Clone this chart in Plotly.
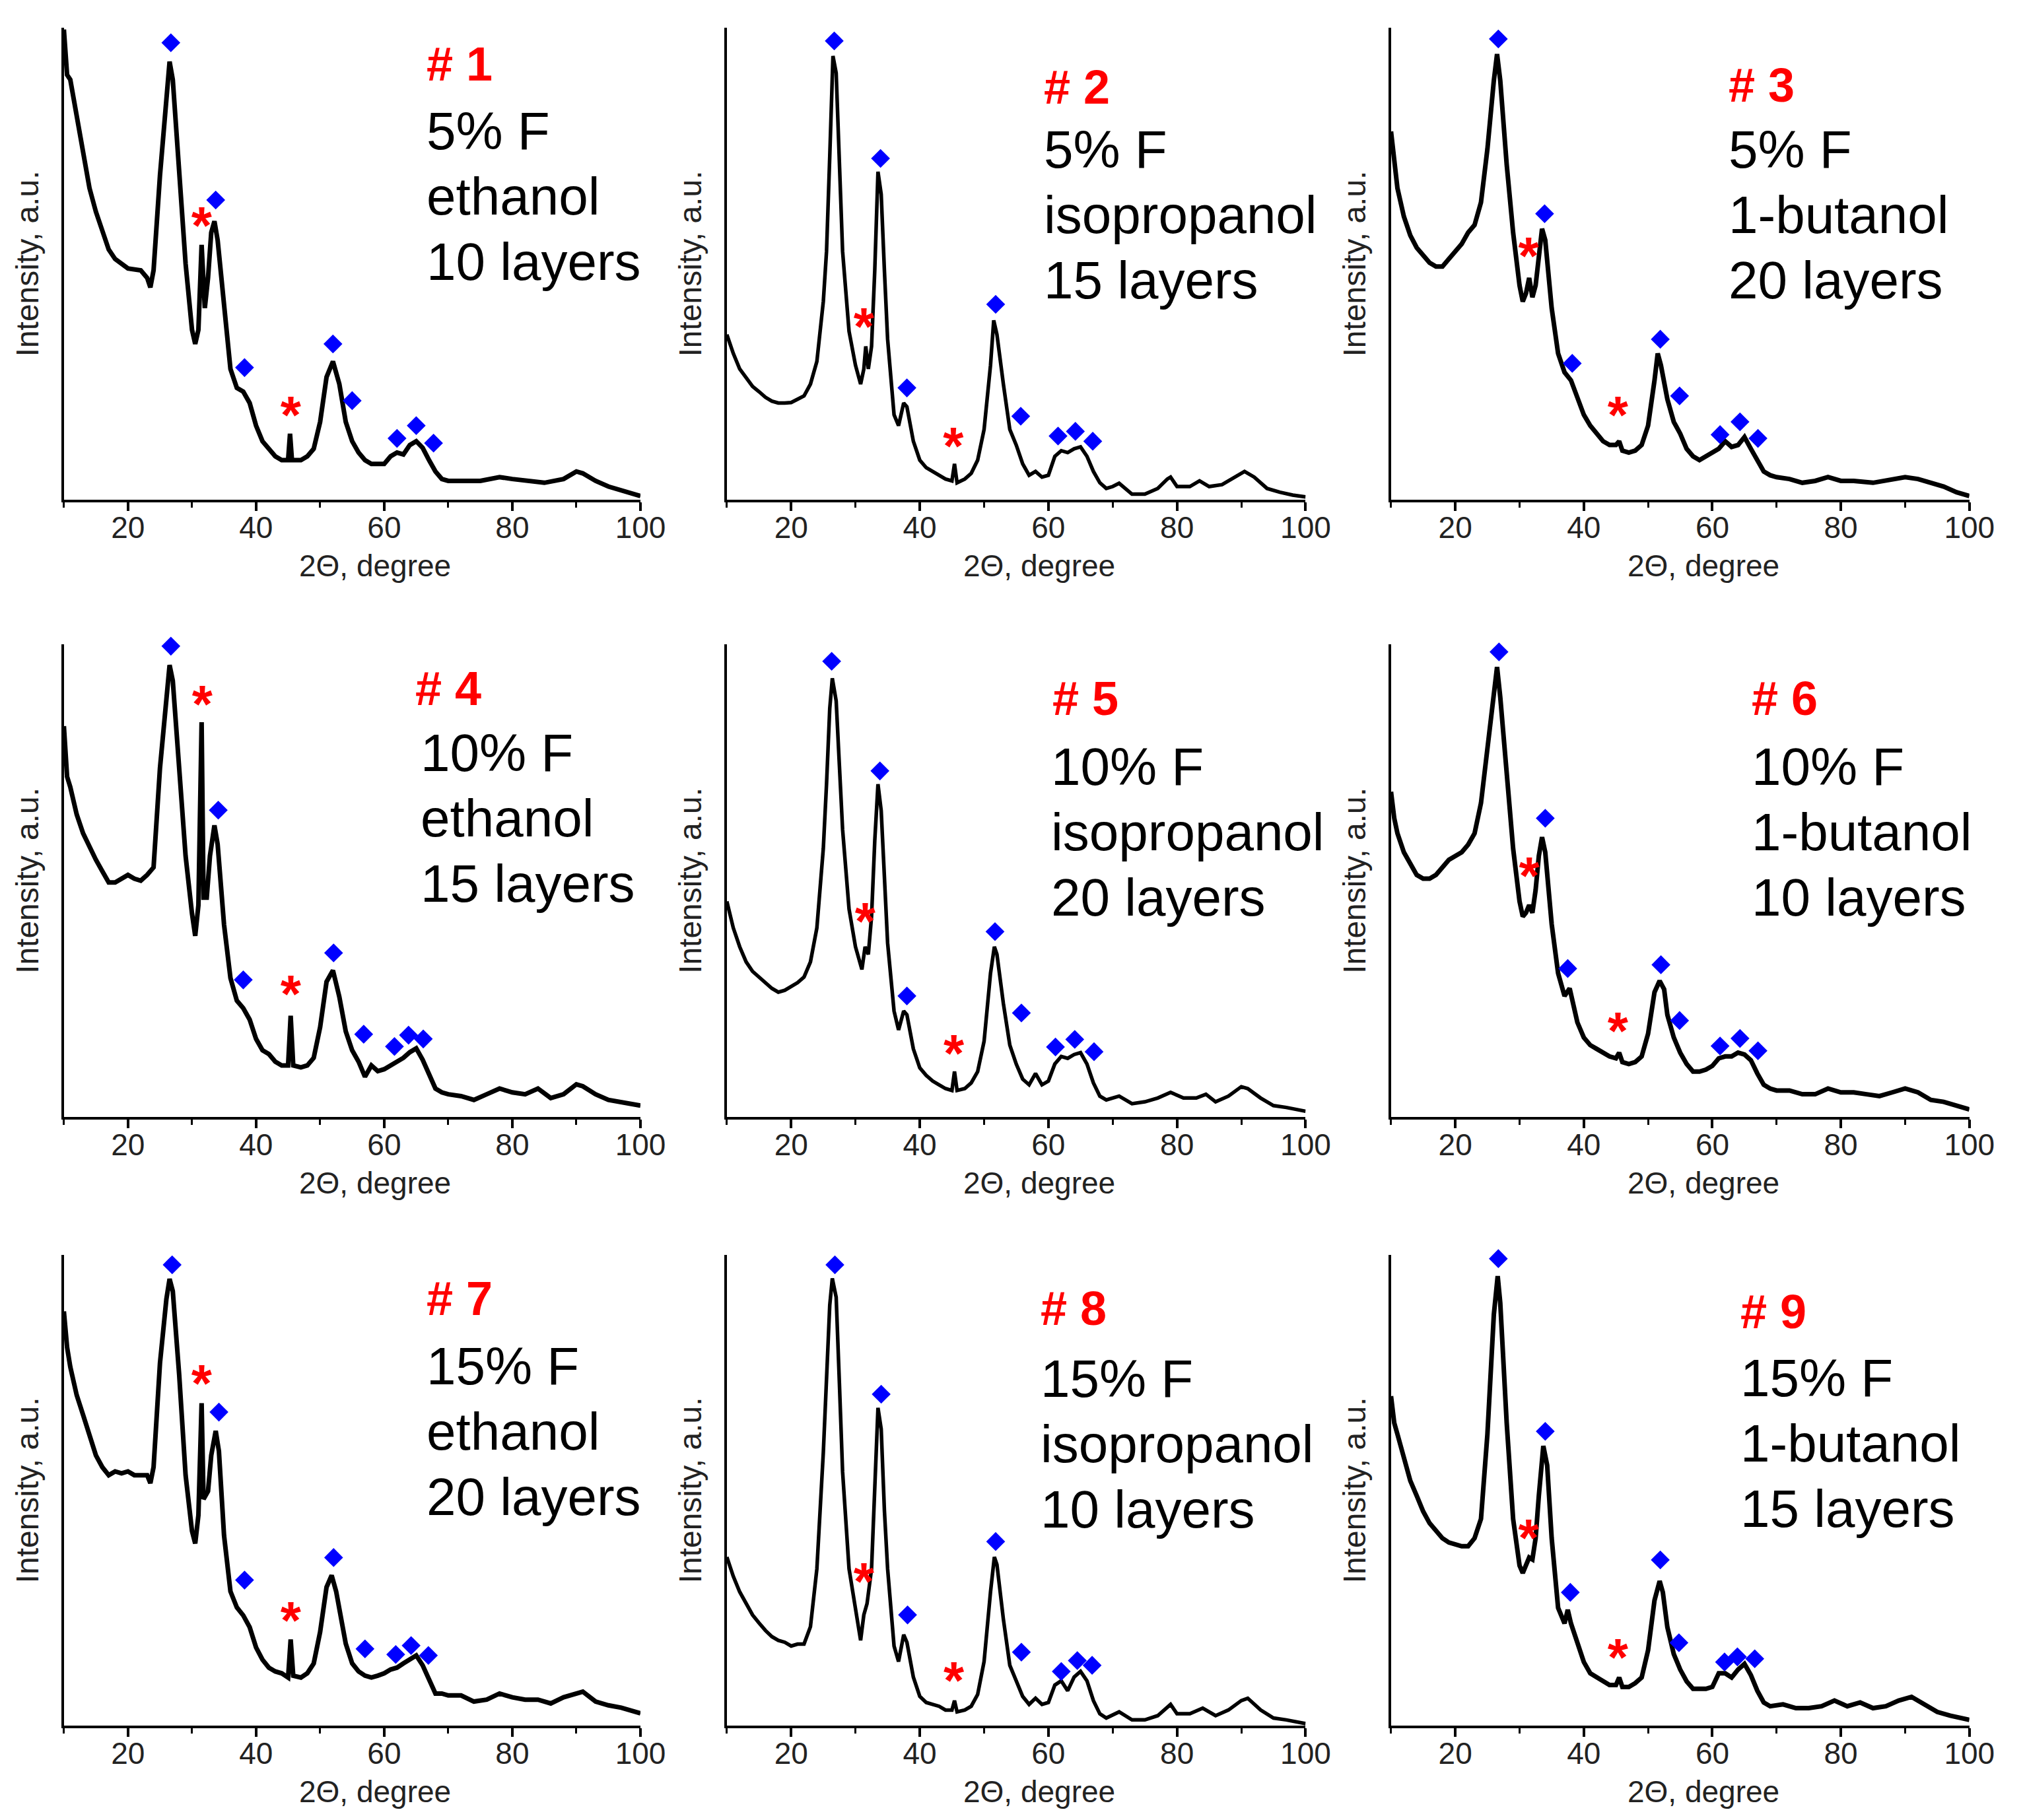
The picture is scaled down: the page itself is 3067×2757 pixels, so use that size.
import plotly.graph_objects as go
from plotly.subplots import make_subplots

# { spectra, intensity normalised to the height of each y axis (0..100)
x1 = [10, 10.5, 11, 12, 13, 14, 15, 16, 17, 18, 19, 20, 22, 23, 23.5, 24, 25, 26, 26.5, 27, 28, 29, 30, 30.5, 31, 31.5, 32, 32.5, 33, 33.5,
      34, 35, 36, 37, 38, 39, 40, 41, 42, 43, 44, 45, 45.3, 45.6, 47, 48, 49, 50, 51, 52, 53, 54, 55, 56, 57, 58, 59, 60, 61, 62,
      63, 64, 65, 66, 67, 68, 69, 70, 75, 78, 80, 85, 88, 90, 91, 93, 95, 97, 100]
y1 = [99.6, 90, 89, 81, 73, 66, 61, 57, 53, 51, 50, 49, 48.6, 47, 45, 48.6, 68.7, 85, 92.8, 89, 71, 50, 36, 33, 36, 54, 40.6, 47, 56.6, 59,
      55, 40.6, 27.7, 23.7, 22.9, 20.5, 15.7, 12.4, 10.8, 9.2, 8.4, 8.4, 14, 8.4, 8.4, 9.2, 10.8, 16.5, 26, 29.3, 24.5, 16.5, 12.4, 10, 8.4, 7.6, 7.6, 7.6, 9.2, 10,
      9.6, 11.6, 12.4, 11, 8.4, 6, 4.4, 4, 4, 4.8, 4.4, 3.6, 4.4, 6, 5.6, 4, 2.8, 2, 0.8]

x2 = [10, 11, 12, 13, 14, 15, 16, 17, 18, 19, 20, 21, 22, 23, 24, 25, 25.5, 26, 26.5, 27, 27.5, 28, 29, 30, 30.8,
      31.3, 31.6, 32, 32.5, 33, 33.5, 34, 34.5, 35, 36, 36.7, 37.5, 38, 39, 40, 41, 42, 43, 44, 45,
      45.4, 45.8, 47, 48, 49, 50, 51, 51.5, 52, 53, 54, 55, 56, 57, 58, 59, 60, 61, 62, 63,
      64, 65, 66, 67, 68, 69, 70, 71, 72, 73, 75, 77, 78.5, 79, 80, 82, 83.5, 85, 87, 89, 90.5, 92, 94, 96, 98, 100]
y2 = [35, 31, 27.7, 25.7, 24, 22.9, 21.7, 20.9, 20.5, 20.5, 20.6, 21.3, 22, 24.5, 29.3, 42, 52.6, 72.7, 94, 90.4, 71, 52.6, 35.7, 28.5, 24.5,
      27.7, 32.5, 27.7, 32.5, 48.6, 69.5, 64.7, 48.6, 34, 18, 15.7, 20.5, 19.7, 12.4, 8.4, 6.8, 6, 5.2, 4.4, 4,
      7.6, 3.6, 4.4, 5.6, 8.4, 14.9, 28.5, 38, 35, 24.5, 14.9, 11.6, 7.6, 5.2, 6, 4.8, 5.2, 9.2, 10.4, 10,
      10.8, 11.2, 9.2, 6, 3.6, 2.4, 2.8, 3.5, 2.4, 1.2, 1.2, 2.4, 4.4, 4.8, 2.8, 2.8, 4, 2.8, 3.2, 4.8, 6, 4.8, 2.4, 1.6, 1, 0.6]

x3 = [10, 10.5, 11, 12, 13, 14, 15, 16, 17, 18, 19, 20, 21, 22, 23, 24, 25, 26, 26.5, 27, 28, 29, 30, 30.5, 31, 31.5, 32, 32.5, 33, 33.5,
      34, 35, 36, 37, 38, 39, 40, 41, 42, 43, 44, 45, 45.5, 46, 47, 48, 49, 50, 51, 51.5, 52, 53, 54, 55, 56, 57, 58, 59, 60, 61,
      62, 63, 64, 65, 66, 67, 68, 69, 70, 72, 74, 76, 78, 80, 82, 85, 88, 90, 92, 94, 96, 98, 100]
y3 = [78, 72.7, 66, 60, 56, 53.4, 51.8, 50.2, 49.4, 49.4, 51, 52.6, 54.2, 56.6, 58.2, 63, 74.3, 88.8, 94.4, 88.8, 71, 56.6, 45.4, 42, 43.7, 47, 42.9, 45.4, 52.6, 57.4,
      55, 40.6, 31, 27, 25.3, 21.3, 18, 15.7, 14, 12.4, 11.6, 11.6, 12.4, 10.4, 10, 10.4, 11.6, 15.7, 25.3, 31, 28.5, 21.3, 16.5, 14, 10.8, 9.2, 8.4, 9.2, 10, 10.8,
      12.4, 11.2, 11.6, 13.3, 10.8, 8.4, 6, 5.2, 4.8, 4.4, 3.6, 4, 4.8, 4, 4, 3.6, 4.4, 4.8, 4.4, 3.6, 2.8, 1.6, 0.8]

x4 = [10, 10.5, 11, 12, 13, 14, 15, 16, 17, 18, 19, 20, 21, 22, 23, 24, 25, 26, 26.5, 27, 28, 29, 30, 30.5, 31, 31.5, 31.8, 32.3, 32.8, 33.5,
      34, 35, 36, 37, 38, 39, 40, 41, 42, 43, 44, 45, 45.4, 45.8, 47, 48, 49, 50, 51, 52, 53, 54, 55, 56, 57, 58, 59, 60, 61, 62,
      63, 64, 65, 66, 67, 68, 69, 70, 72, 74, 76, 78, 80, 82, 84, 86, 88, 90, 91, 93, 95, 97, 100]
y4 = [82.7, 72, 69.8, 64, 60, 56.9, 54.4, 52, 49.6, 49.6, 50.4, 51.2, 50.4, 50, 51.2, 52.8, 73.8, 89, 95.6, 92.3, 73.8, 55.2, 43, 38.3, 44.8, 83.5, 46.4, 46.4, 55.2, 61.7,
      57.7, 40.7, 29.4, 24.6, 23, 20.6, 16.5, 14.1, 13.3, 11.7, 10.9, 10.9, 21.4, 10.9, 10.5, 10.9, 12.5, 19, 28.6, 31, 25.4, 18.1, 14.1, 11.7, 8.5, 10.9, 9.7, 10.1, 10.9, 11.7,
      12.5, 13.7, 14.5, 12.1, 9.3, 6, 5.2, 4.8, 4.4, 3.6, 4.8, 6, 5.2, 4.8, 6, 4, 4.8, 6.9, 6.5, 4.8, 3.6, 3.2, 2.4]

x5 = [10, 10.5, 11, 12, 13, 14, 15, 16, 17, 18, 19, 20, 21, 22, 23, 24, 25, 25.5, 26, 26.4, 27, 27.5, 28, 29, 30, 31, 31.5, 32, 32.5, 33,
      33.5, 34, 34.5, 35, 36, 36.7, 37.5, 38, 39, 40, 41, 42, 43, 44, 45, 45.4, 45.8, 47, 48, 49, 50, 51, 51.6, 52, 53, 54, 55, 56, 57, 58,
      59, 60, 61, 62, 63, 64, 65, 66, 67, 68, 69, 71, 73, 75, 77, 79, 81, 83, 84.5, 86, 88, 90, 91, 93, 95, 97, 100]
y5 = [45.6, 42.4, 40, 36, 32.8, 30.8, 29.6, 28.4, 27.2, 26.4, 26.8, 27.6, 28.4, 29.6, 32.8, 40, 56.8, 70.4, 86.4, 92.8, 88, 74.4, 60.8, 44, 36, 31.2, 36, 34.4, 42.4, 58.4,
      70.4, 64.8, 50.4, 36.8, 22.4, 18.4, 22.4, 21.6, 14.4, 10.4, 8.8, 7.6, 6.8, 6, 5.6, 9.6, 5.6, 6, 7.2, 9.6, 16, 30.4, 36, 34.4, 24, 15.2, 11.2, 8, 6.8, 9.2,
      6.8, 7.6, 11.2, 12.8, 12.4, 13.2, 13.6, 11.2, 7.2, 4.4, 3.6, 4.4, 2.8, 3.2, 4, 5.2, 4, 4, 4.8, 3.2, 4.4, 6.4, 6, 4, 2.4, 2, 1.2]

x6 = [10, 10.5, 11, 12, 13, 14, 15, 16, 17, 18, 19, 20, 21, 22, 23, 24, 25, 26, 26.5, 27, 28, 29, 30, 30.5, 31, 31.5,
      32, 32.5, 33, 33.5, 34, 35, 36, 37, 37.8, 38.5, 39, 40, 41, 42, 43, 44, 45, 45.5, 46, 47,
      48, 49, 50, 51, 51.8, 52.5, 53, 54, 55, 56, 57, 58, 59, 60, 61, 62, 63, 64, 65, 66,
      67, 68, 69, 70, 72, 74, 76, 78, 80, 82, 84, 86, 88, 90, 92, 94, 96, 98, 100]
y6 = [68.8, 63.2, 60, 56, 53.6, 51.2, 50.4, 50.4, 51.2, 52.8, 54.4, 55.2, 56, 57.6, 60, 66.4, 78.4, 90.4, 95.2, 88.8, 72, 56.8, 45.6, 42.4, 43.2, 44.8,
      43.2, 48, 55.2, 59.2, 56, 40.8, 30.4, 25.6, 27.2, 23.2, 20, 16.8, 15.2, 14.4, 13.6, 12.8, 12.4, 13.6, 11.6, 11.2,
      11.6, 12.8, 17.6, 26.4, 28.8, 27, 21.6, 16.8, 13.6, 11.2, 9.6, 9.6, 10, 10.8, 12.4, 12.8, 12.8, 13.6, 13.2, 12,
      9.2, 6.8, 6, 5.6, 5.6, 4.8, 4.8, 6, 5.2, 5.2, 4.8, 4.4, 5.2, 6, 5.2, 3.6, 3.2, 2.4, 1.6]

x7 = [10, 10.5, 11, 12, 13, 14, 15, 16, 17, 18, 19, 20, 21, 22, 23, 23.5, 24, 25, 26, 26.5, 27, 28, 29, 30, 30.5, 31, 31.5, 31.8, 32.5, 33,
      33.7, 34.2, 35, 36, 37, 38, 39, 40, 41, 42, 43, 44, 45, 45.4, 45.8, 47, 48, 49, 50, 51, 51.8, 52.5, 53, 54, 55, 56, 57, 58, 59, 60,
      61, 62, 63, 64, 65, 66, 67, 68, 69, 70, 72, 74, 76, 78, 80, 82, 84, 86, 88, 90, 91, 93, 95, 97, 100]
y7 = [88, 80.4, 76.2, 70.2, 66, 61.7, 57.4, 54.9, 53.2, 54, 53.6, 54, 53.2, 53.2, 53.2, 51.5, 54.9, 77, 90.6, 94.9, 92.3, 74.5, 53.2, 41.3, 38.7, 44.7, 68.5, 48.1, 49.8, 57.4,
      62.6, 58.3, 40.4, 28.5, 25.1, 23.4, 20.9, 16.6, 14, 12.3, 11.5, 11.1, 10.2, 18.3, 10.6, 10.2, 11.1, 13.2, 19.9, 29.4, 31.9, 28.5, 24.3, 17.4, 13.2, 11.5, 10.6, 10.2, 10.6, 11.1,
      11.9, 12.3, 13.2, 14, 14.9, 12.8, 9.8, 6.8, 6.8, 6.4, 6.4, 5.1, 5.5, 6.8, 6, 5.5, 5.5, 4.7, 6, 6.8, 7.2, 5.1, 4.3, 3.8, 2.6]

x8 = [10, 11, 12, 13, 14, 15, 16, 17, 18, 19, 20, 21, 22, 23, 24, 25, 25.5, 26, 26.4, 27, 27.5, 28, 29, 30, 30.8,
      31.3, 31.8, 32.5, 33, 33.5, 34, 34.5, 35, 36, 36.7, 37.5, 38, 39, 40, 41, 42, 43, 44, 45, 45.4,
      45.8, 47, 48, 49, 50, 51, 51.6, 52, 53, 54, 55, 56, 57, 58, 59, 60, 61, 62, 63, 64,
      65, 66, 67, 68, 69, 71, 73, 75, 77, 79, 80, 82, 84, 86, 88, 90, 91, 93, 95, 97, 100]
y8 = [35.8, 31.7, 28.4, 25.9, 23.5, 21.8, 20.2, 18.9, 18.1, 17.7, 16.9, 17.3, 17.3, 21, 33.3, 58, 74.5, 89.3, 95, 91, 72.8, 53.9, 33.3, 24.3, 18.1,
      23.5, 25.9, 33.3, 49.8, 67.5, 63, 45.7, 33.3, 16.9, 13.6, 19.3, 17.7, 10.3, 6.2, 4.9, 4.5, 4.1, 3.3, 3.3, 5.3,
      2.9, 3.3, 4.1, 6.6, 13.6, 28.4, 35.8, 34.2, 22.6, 12.8, 9.5, 6.2, 4.5, 5.8, 4.5, 4.9, 8.6, 9.5, 7.4, 10.3,
      11.5, 9.5, 5.3, 2.5, 1.6, 2.9, 1.2, 1.2, 2.1, 4.5, 2.5, 2.5, 3.7, 2.1, 3.3, 5.3, 5.8, 3.3, 1.6, 1.2, 0.4]

x9 = [10, 10.5, 11, 12, 13, 14, 15, 16, 17, 18, 19, 20, 21, 22, 23, 24, 25, 26, 26.6, 27, 28, 29, 30, 30.5, 31, 31.5, 32, 32.5, 33, 33.7,
      34.3, 35, 36, 37, 37.5, 38, 39, 40, 41, 42, 43, 44, 45, 45.5, 46, 47, 48, 49, 50, 51, 51.8, 52.3, 53, 54, 55, 56, 57, 58, 59, 60,
      61, 62, 63, 64, 65, 66, 67, 68, 69, 71, 73, 75, 77, 79, 81, 83, 85, 87, 89, 91, 93, 95, 97, 100]
y9 = [70, 64.3, 61.9, 57, 52, 48.8, 45.5, 43, 41.4, 39.8, 38.9, 38.5, 38.1, 38.1, 39.8, 43.9, 61.9, 87.3, 95.5, 89.8, 64.3, 43.9, 34, 32.4, 34, 35.7, 35.3, 39.8, 48.8, 59.4,
      55.3, 39.8, 25, 21.7, 24.6, 21.7, 17.6, 13.5, 11.1, 10.2, 9.4, 8.6, 8.6, 10.2, 8.2, 8.2, 9, 10.2, 16, 26.6, 30.7, 28.3, 20.9, 15.2, 11.9, 9.4, 7.8, 7.8, 7.8, 8.2,
      11.1, 11.1, 10.2, 11.9, 13.1, 10.7, 7.4, 4.9, 4.1, 4.5, 3.7, 3.7, 4.1, 5.3, 4.1, 4.9, 3.7, 4.1, 5.3, 6.1, 4.5, 2.9, 2.1, 1.2]
# }

# { phase marks: blue diamonds and red asterisks
d1x = [26.7, 33.7, 38.2, 52, 55, 62, 65, 67.7]
d1y = [96.8, 63.5, 28, 33, 21, 13, 15.7, 12]
s1x = [31.5, 45.4]
s1y = [57, 16.9]
d2x = [26.7, 33.9, 38, 51.8, 55.7, 61.5, 64.2, 66.9]
d2y = [97.2, 72.3, 23.7, 41.4, 17.7, 13.5, 14.5, 12.4]
s2x = [31.3, 45.2]
s2y = [35.7, 10.4]
d3x = [26.7, 33.9, 38.2, 51.9, 54.9, 61.2, 64.3, 67.1]
d3y = [97.6, 60.6, 28.9, 34, 22, 13.8, 16.5, 13]
s3x = [31.4, 45.3]
s3y = [50.6, 16.9]
d4x = [26.7, 34.1, 38, 52.1, 56.8, 61.6, 63.8, 66.1]
d4y = [99.6, 64.9, 29, 34.7, 17.5, 14.9, 17.3, 16.5]
s4x = [31.6, 45.4]
s4y = [86.3, 25]
d5x = [26.3, 33.8, 38, 51.7, 55.8, 61.1, 64.1, 67.1]
d5y = [96.4, 73.2, 25.6, 39.2, 22, 14.8, 16.4, 13.8]
s5x = [31.5, 45.3]
s5y = [40.4, 12.4]
d6x = [26.8, 34, 37.5, 52, 54.9, 61.2, 64.3, 67.1]
d6y = [98.4, 63.2, 31.4, 32.2, 20.4, 15, 16.6, 14]
s6x = [31.5, 45.3]
s6y = [50, 17.2]
d7x = [26.9, 34.2, 38.2, 52.1, 57, 61.8, 64.2, 66.9]
d7y = [97.9, 66.6, 30.9, 35.7, 16.3, 15.1, 17, 14.9]
s7x = [31.5, 45.4]
s7y = [71.7, 21.3]
d8x = [26.8, 34, 38.1, 51.8, 55.8, 62, 64.5, 66.8]
d8y = [97.9, 70.4, 23.5, 39.1, 15.6, 11.5, 13.8, 12.8]
s8x = [31.3, 45.3]
s8y = [29.6, 8.6]
d9x = [26.7, 34, 37.9, 51.9, 54.8, 61.9, 63.9, 66.6]
d9y = [99.2, 62.5, 28.3, 35.2, 17.6, 13.5, 14.6, 14.2]
s9x = [31.4, 45.3]
s9y = [38.9, 13.5]
# }

# { sample labels
sample_no = ["# 1", "# 2", "# 3", "# 4", "# 5", "# 6", "# 7", "# 8", "# 9"]
fluorine = ["5% F", "5% F", "5% F", "10% F", "10% F", "10% F", "15% F", "15% F", "15% F"]
solvent = ["ethanol", "isopropanol", "1-butanol"] * 3
layers = ["10 layers", "15 layers", "20 layers", "15 layers", "20 layers", "10 layers", "20 layers", "10 layers", "15 layers"]
# }

curves = [(x1, y1), (x2, y2), (x3, y3), (x4, y4), (x5, y5), (x6, y6), (x7, y7), (x8, y8), (x9, y9)]
diamonds = [(d1x, d1y), (d2x, d2y), (d3x, d3y), (d4x, d4y), (d5x, d5y), (d6x, d6y), (d7x, d7y), (d8x, d8y), (d9x, d9y)]
stars = [(s1x, s1y), (s2x, s2y), (s3x, s3y), (s4x, s4y), (s5x, s5y), (s6x, s6y), (s7x, s7y), (s8x, s8y), (s9x, s9y)]

# panel placement (fractions of the page)
col_dom = [[0.0293, 0.3176], [0.3608, 0.6502], [0.6929, 0.9821]]
row_dom = [[0.7283, 0.9877], [0.3892, 0.6489], [0.0548, 0.3134]]
# label positions inside each panel, in axis-domain fractions
label_pos = [(0.627, 0.923), (0.545, 0.874), (0.581, 0.878), (0.607, 0.907), (0.560, 0.885),
             (0.621, 0.885), (0.627, 0.907), (0.540, 0.887), (0.602, 0.880)]
block_pos = [(0.627, 0.642), (0.545, 0.604), (0.581, 0.604), (0.616, 0.632), (0.558, 0.602),
             (0.621, 0.602), (0.627, 0.625), (0.540, 0.598), (0.602, 0.599)]
LINE_GAP = 99  # px between the three text lines
# isopropanol spectra are smoother, drawn with a thinner line
line_w = [7, 5.5, 7, 7, 5.5, 7, 7, 5.5, 7]

FONT = "Liberation Sans, Arial, sans-serif"

fig = make_subplots(rows=3, cols=3)

for i in range(9):
    r, c = i // 3 + 1, i % 3 + 1
    cx, cy = curves[i]
    fig.add_trace(go.Scatter(x=cx, y=cy, mode="lines",
                             line=dict(color="black", width=line_w[i]),
                             showlegend=False), row=r, col=c)
    dx, dy = diamonds[i]
    fig.add_trace(go.Scatter(x=dx, y=dy, mode="markers",
                             marker=dict(symbol="diamond", size=22, color="#0000ff"),
                             cliponaxis=False, showlegend=False), row=r, col=c)
    sx, sy = stars[i]
    fig.add_trace(go.Scatter(x=sx, y=sy, mode="text", text=["*"] * len(sx),
                             textposition="middle center",
                             textfont=dict(family=FONT, size=80, color="#ff0000", weight="bold"),
                             cliponaxis=False, showlegend=False), row=r, col=c)

    n = "" if i == 0 else str(i + 1)
    fig.update_layout({
        "xaxis" + n: dict(domain=col_dom[c - 1]),
        "yaxis" + n: dict(domain=row_dom[r - 1]),
    })

    lx, ly = label_pos[i]
    fig.add_annotation(xref="x" + n + " domain", yref="y" + n + " domain",
                       x=lx, y=ly, xanchor="left", yanchor="middle",
                       text=sample_no[i], showarrow=False,
                       font=dict(family=FONT, size=72, color="#ff0000", weight="bold"))
    bx, by = block_pos[i]
    for k, line in enumerate([fluorine[i], solvent[i], layers[i]]):
        fig.add_annotation(xref="x" + n + " domain", yref="y" + n + " domain",
                           x=bx, y=by, yshift=(1 - k) * LINE_GAP,
                           xanchor="left", yanchor="middle",
                           text=line, showarrow=False,
                           font=dict(family=FONT, size=80, color="black"))
    # x axis title, sitting a little right of the axis centre as in the source
    fig.add_annotation(xref="x" + n + " domain", yref="y" + n + " domain",
                       x=0.54, y=0, yshift=-100, xanchor="center", yanchor="middle",
                       text="2Θ, degree", showarrow=False,
                       font=dict(family=FONT, size=46, color="#222222"))

fig.update_xaxes(range=[10, 100], showline=True, linecolor="black", linewidth=4,
                 showgrid=False, zeroline=False,
                 ticks="outside", ticklen=13, tickwidth=4, tickcolor="black",
                 tick0=0, dtick=20, ticklabelstandoff=-14,
                 minor=dict(ticks="outside", tick0=0, dtick=10, ticklen=8, tickwidth=3, tickcolor="black"),
                 tickfont=dict(family=FONT, size=46, color="#222222"))
fig.update_yaxes(range=[0, 100], showline=True, linecolor="black", linewidth=4,
                 showgrid=False, zeroline=False, ticks="", showticklabels=False,
                 title=dict(text="Intensity, a.u.", standoff=20,
                            font=dict(family=FONT, size=48, color="#222222")))

fig.update_layout(width=3067, height=2757, margin=dict(l=0, r=0, t=0, b=0),
                  plot_bgcolor="white", paper_bgcolor="white", showlegend=False)

fig.write_html("out.html")
